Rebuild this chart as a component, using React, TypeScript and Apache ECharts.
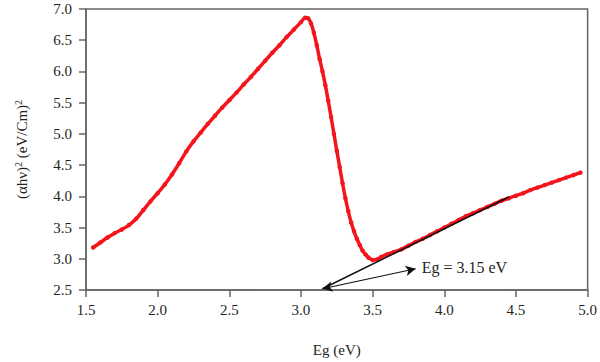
import React, { useEffect, useRef } from "react";
import * as echarts from "echarts";

const energy: number[] = [
  1.55, 1.6, 1.65, 1.7, 1.75, 1.8, 1.85, 1.9, 1.95, 2.0, 2.05, 2.1, 2.15, 2.2, 2.25, 2.3, 2.35, 2.4, 2.45, 2.5,
  2.55, 2.6, 2.65, 2.7, 2.75, 2.8, 2.85, 2.9, 2.95, 3.0, 3.03, 3.05, 3.07, 3.09, 3.11, 3.13, 3.15, 3.17, 3.19,
  3.21, 3.23, 3.25, 3.27, 3.29, 3.31, 3.33, 3.35, 3.37, 3.39, 3.41, 3.43, 3.45, 3.47, 3.5, 3.53, 3.56, 3.6,
  3.65, 3.7, 3.75, 3.8, 3.85, 3.9, 3.95, 4.0, 4.05, 4.1, 4.15, 4.2, 4.25, 4.3, 4.35, 4.4, 4.45, 4.5, 4.55, 4.6,
  4.65, 4.7, 4.75, 4.8, 4.85, 4.9, 4.95,
];
const absorb: number[] = [
  3.18, 3.26, 3.34, 3.41, 3.47, 3.54, 3.64, 3.78, 3.92, 4.05, 4.19, 4.35, 4.53, 4.72, 4.88, 5.02, 5.16, 5.29, 5.42, 5.54,
  5.66, 5.79, 5.91, 6.04, 6.17, 6.3, 6.42, 6.55, 6.67, 6.79, 6.86, 6.85, 6.77, 6.62, 6.42, 6.2, 6.0, 5.78, 5.53,
  5.27, 5.0, 4.73, 4.47, 4.21, 3.97, 3.76, 3.58, 3.44, 3.32, 3.22, 3.13, 3.07, 3.02, 2.98, 2.99, 3.03, 3.07,
  3.11, 3.15, 3.21, 3.27, 3.32, 3.38, 3.44, 3.5, 3.56, 3.62, 3.68, 3.73, 3.78, 3.83, 3.88, 3.93, 3.97, 4.01, 4.05, 4.1,
  4.14, 4.18, 4.22, 4.26, 4.3, 4.34, 4.38,
];
const tangentX: number[] = [3.15, 4.45];
const tangentY: number[] = [2.52, 3.99];
const arrowFrom: number[] = [3.15, 2.52];
const arrowTo: number[] = [3.8, 2.84];
const annotation = "Eg = 3.15 eV";
const xTicks = { min: 1.5, max: 5.0, step: 0.5 };
const yTicks = { min: 2.5, max: 7.0, step: 0.5 };

const FONT = "'Liberation Serif', 'Times New Roman', serif";
const TEXT = "#231f20";
const AXIS = "#666666";

export default function App() {
  const ref = useRef<HTMLDivElement>(null);
  useEffect(() => {
    if (!ref.current) return;
    const chart = echarts.init(ref.current, undefined, { renderer: "svg" });
    chart.setOption({
      animation: false,
      backgroundColor: "#ffffff",
      grid: {
        left: 86,
        right: 9,
        top: 9,
        bottom: 72,
        show: true,
        borderColor: AXIS,
        borderWidth: 1.5,
      },
      xAxis: {
        type: "value",
        min: xTicks.min,
        max: xTicks.max,
        interval: xTicks.step,
        name: "Eg (eV)",
        nameLocation: "middle",
        nameGap: 52,
        nameTextStyle: { fontFamily: FONT, fontSize: 15, color: TEXT },
        axisLine: { show: true, onZero: false, lineStyle: { color: AXIS, width: 1.5 } },
        axisTick: { show: true, length: 7, lineStyle: { color: AXIS, width: 1.5 } },
        axisLabel: {
          fontFamily: FONT,
          fontSize: 15,
          color: TEXT,
          margin: 12,
          formatter: (v: number) => v.toFixed(1),
        },
        splitLine: { show: false },
      },
      yAxis: {
        type: "value",
        min: yTicks.min,
        max: yTicks.max,
        interval: yTicks.step,
        name: "{a|(αhν)}{s|2}{a| (eV/Cm)}{s|2}",
        nameLocation: "middle",
        nameGap: 55,
        nameTextStyle: {
          fontFamily: FONT,
          color: TEXT,
          rich: {
            a: { fontFamily: FONT, fontSize: 15, color: TEXT },
            s: { fontFamily: FONT, fontSize: 10, color: TEXT, verticalAlign: "top", padding: [0, 0, 8, 0] },
          },
        },
        axisLine: { show: true, onZero: false, lineStyle: { color: AXIS, width: 1.5 } },
        axisTick: { show: true, length: 7, lineStyle: { color: AXIS, width: 1.5 } },
        axisLabel: {
          fontFamily: FONT,
          fontSize: 15,
          color: TEXT,
          margin: 14,
          formatter: (v: number) => v.toFixed(1),
        },
        splitLine: { show: false },
      },
      series: [
        {
          type: "line",
          data: tangentX.map((x, i) => [x, tangentY[i]]),
          symbol: "none",
          lineStyle: { color: "#111111", width: 1.5 },
          z: 3,
          markLine: {
            silent: true,
            symbol: ["arrow", "arrow"],
            symbolSize: [8, 10],
            label: { show: false },
            lineStyle: { color: "#111111", width: 1.2, type: "solid" },
            data: [[{ coord: arrowFrom }, { coord: arrowTo }]],
          },
          markPoint: {
            silent: true,
            symbol: "circle",
            symbolSize: 0,
            label: {
              show: true,
              position: "right",
              distance: 6,
              formatter: annotation,
              fontFamily: FONT,
              fontSize: 16,
              color: TEXT,
            },
            data: [{ coord: [arrowTo[0], 2.86] }],
          },
        },
        {
          type: "line",
          data: energy.map((x, i) => [x, absorb[i]]),
          smooth: 0.3,
          showSymbol: true,
          showAllSymbol: true,
          symbol: "circle",
          symbolSize: 4.5,
          itemStyle: { color: "#f4141c" },
          lineStyle: { color: "#f4141c", width: 3.5 },
          z: 2,
        },
      ],
    });
    return () => chart.dispose();
  }, []);
  return (
    <div
      ref={ref}
      style={{ position: "fixed", left: 0, top: 0, width: 600, height: 362, background: "#fff" }}
    />
  );
}
